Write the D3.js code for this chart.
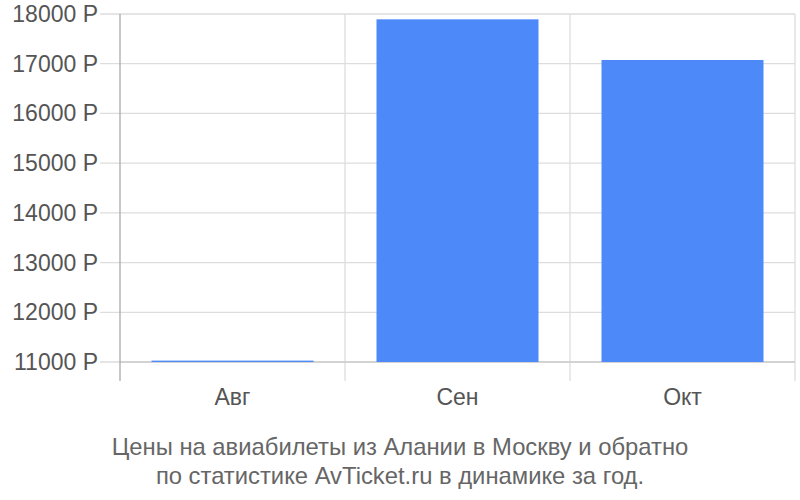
<!DOCTYPE html>
<html><head><meta charset="utf-8">
<script src="https://cdn.jsdelivr.net/npm/d3@7"></script>
<style>body{margin:0;background:#fff}svg{display:block}text{font-family:"Liberation Sans",Arial,sans-serif}</style>
</head><body><svg id="c" width="800" height="500"></svg>
<script>
const categories = ["Авг", "Сен", "Окт"];
const prices = [11028, 17893, 17075];
const yTicks = [11000, 12000, 13000, 14000, 15000, 16000, 17000, 18000];
const titleLines = ["Цены на авиабилеты из Алании в Москву и обратно", "по статистике AvTicket.ru в динамике за год."];

const svg = d3.select("#c");
const pLeft = 120, pRight = 795, pTop = 14, pBottom = 362;
const x = d3.scaleBand().domain(categories).range([pLeft, pRight]).paddingInner(0.28).paddingOuter(0.14);
const xb = d3.scaleBand().domain(categories).range([pLeft, pRight]);
const y = d3.scaleLinear().domain([11000, 18000]).range([pBottom, pTop]);

// horizontal grid
svg.append("g").selectAll("line").data(yTicks).join("line")
  .attr("x1", 100).attr("x2", pRight).attr("y1", d => y(d)).attr("y2", d => y(d))
  .attr("stroke", "#dddddd").attr("stroke-width", 1.3);
// vertical grid
svg.append("g").selectAll("line").data(categories).join("line")
  .attr("x1", (d, i) => pLeft + xb.step() * (i + 1)).attr("x2", (d, i) => pLeft + xb.step() * (i + 1))
  .attr("y1", pTop).attr("y2", 381).attr("stroke", "#dddddd").attr("stroke-width", 1.3);
// bottom baseline
svg.append("line").attr("x1", pLeft).attr("x2", pRight).attr("y1", pBottom).attr("y2", pBottom)
  .attr("stroke", "#cccccc").attr("stroke-width", 1.3);

// bars
svg.append("g").selectAll("rect").data(prices).join("rect")
  .attr("x", (d, i) => x(categories[i])).attr("width", x.bandwidth())
  .attr("y", d => y(d)).attr("height", d => pBottom - y(d))
  .attr("fill", "#4d89f9");

// y axis line
svg.append("line").attr("x1", pLeft).attr("x2", pLeft).attr("y1", pTop).attr("y2", 381)
  .attr("stroke", "#aaaaaa").attr("stroke-width", 1.3);

// y labels
svg.append("g").selectAll("text").data(yTicks).join("text")
  .attr("x", 98).attr("y", d => y(d)).attr("dy", "0.35em").attr("text-anchor", "end")
  .attr("font-size", 23).attr("fill", "#555").text(d => d + " Р");

// x labels
svg.append("g").selectAll("text").data(categories).join("text")
  .attr("x", d => xb(d) + xb.bandwidth() / 2).attr("y", 405).attr("text-anchor", "middle")
  .attr("font-size", 23).attr("fill", "#555").text(d => d);

// title
svg.append("g").selectAll("text").data(titleLines).join("text")
  .attr("x", 400).attr("y", (d, i) => 455 + i * 29).attr("text-anchor", "middle")
  .attr("font-size", 23.8).attr("fill", "#666").text(d => d);
</script></body></html>
